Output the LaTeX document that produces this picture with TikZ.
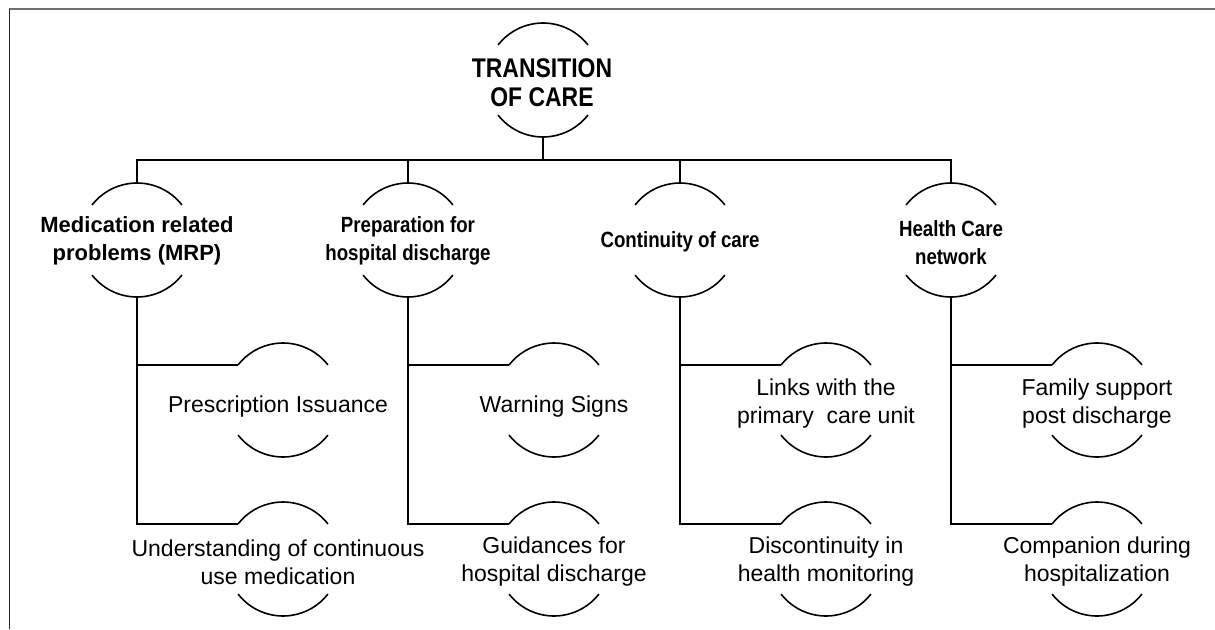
\documentclass[tikz,border=0pt]{standalone}
\usepackage{fontspec}
\setmainfont{Liberation Sans}
\newfontfamily\narrowsans[FakeStretch=0.85]{Liberation Sans}
\usetikzlibrary{calc}

\definecolor{framegray}{HTML}{707070}

\tikzset{
  ring/.style={circle, minimum size=114pt, inner sep=0pt, outer sep=0pt},
  rim/.style={line width=1.6pt, black},
  wire/.style={line width=1.6pt, black},
  topline/.style={line width=2pt, framegray},
  sideline/.style={line width=1.6pt, black!85},
  toptext/.style={font=\fontsize{27}{29}\selectfont\narrowsans\bfseries, align=center},
  mrptext/.style={font=\fontsize{22}{28}\selectfont\bfseries, align=center},
  headtext/.style={font=\fontsize{22}{28}\selectfont\narrowsans\bfseries, align=center},
  itemtext/.style={font=\fontsize{23}{28}\selectfont, align=center}
}

% the two open arcs round a ring
\newcommand{\ringarcs}[1]{%
  \draw [rim] (#1.38) arc (38:142:57pt);%
  \draw [rim] (#1.218) arc (218:322:57pt);%
}

\begin{document}
\begin{tikzpicture}[x=1pt, y=1pt]
  % \clip (0,0) rectangle (1215,-629);
  \useasboundingbox (0,0) rectangle (1215,-629);

  % Drawing frame
  \draw [topline] (9,-8.5) -- (1215,-8.5);%
  \draw [sideline] (9.5,-8.5) -- (9.5,-629);%

  % Marking ring care
  \node [ring] (care) at (543,-80) {};%
  \node [toptext] (caretext) at (542,-83) {TRANSITION\\OF CARE};%
  \ringarcs{care}

  % Marking ring med
  \node [ring] (med) at (137,-240) {};%
  \node [mrptext] (medtext) at (137,-241) {Medication related\\problems (MRP)};%
  \ringarcs{med}

  % Marking ring prep
  \node [ring] (prep) at (408,-240) {};%
  \node [headtext] (preptext) at (408,-241) {Preparation for\\hospital discharge};%
  \ringarcs{prep}

  % Marking ring cont
  \node [ring] (cont) at (680,-240) {};%
  \node [headtext] (conttext) at (680,-242) {Continuity of care};%
  \ringarcs{cont}

  % Marking ring hlth
  \node [ring] (hlth) at (951,-240) {};%
  \node [headtext] (hlthtext) at (951,-243) {Health Care\\network};%
  \ringarcs{hlth}

  % Marking rings below med
  \node [ring] (presc) at (283,-400) {};%
  \node [itemtext] (presctext) at (278,-407) {Prescription Issuance};%
  \ringarcs{presc}
  \node [ring] (und) at (283,-559) {};%
  \node [itemtext] (undtext) at (278,-562) {Understanding of continuous\\use medication};%
  \ringarcs{und}

  % Marking rings below prep
  \node [ring] (warn) at (554,-400) {};%
  \node [itemtext] (warntext) at (554,-407) {Warning Signs};%
  \ringarcs{warn}
  \node [ring] (guid) at (554,-559) {};%
  \node [itemtext] (guidtext) at (554,-562) {Guidances for\\hospital discharge};%
  \ringarcs{guid}

  % Marking rings below cont
  \node [ring] (links) at (826,-400) {};%
  \node [itemtext] (linkstext) at (826,-404) {Links with the\\primary\ \ care unit};%
  \ringarcs{links}
  \node [ring] (disc) at (826,-559) {};%
  \node [itemtext] (disctext) at (826,-562) {Discontinuity in\\health monitoring};%
  \ringarcs{disc}

  % Marking rings below hlth
  \node [ring] (fam) at (1097,-400) {};%
  \node [itemtext] (famtext) at (1097,-404) {Family support\\post discharge};%
  \ringarcs{fam}
  \node [ring] (comp) at (1097,-559) {};%
  \node [itemtext] (comptext) at (1097,-562) {Companion during\\hospitalization};%
  \ringarcs{comp}

  % Drawing bar under care
  \coordinate (bar) at (543,-160);
  \draw [wire] (care.south) -- (care.south |- bar);%
  \draw [wire] (med.north) -- (med.north |- bar) -- (hlth.north |- bar) -- (hlth.north);%
  \draw [wire] (prep.north) -- (prep.north |- bar);%
  \draw [wire] (cont.north) -- (cont.north |- bar);%

  % Drawing branches med
  \draw [wire] (med.south) |- (und.142);%
  \draw [wire] (med.south |- presc.142) -- (presc.142);%

  % Drawing branches prep
  \draw [wire] (prep.south) |- (guid.142);%
  \draw [wire] (prep.south |- warn.142) -- (warn.142);%

  % Drawing branches cont
  \draw [wire] (cont.south) |- (disc.142);%
  \draw [wire] (cont.south |- links.142) -- (links.142);%

  % Drawing branches hlth
  \draw [wire] (hlth.south) |- (comp.142);%
  \draw [wire] (hlth.south |- fam.142) -- (fam.142);%
\end{tikzpicture}
\end{document}
